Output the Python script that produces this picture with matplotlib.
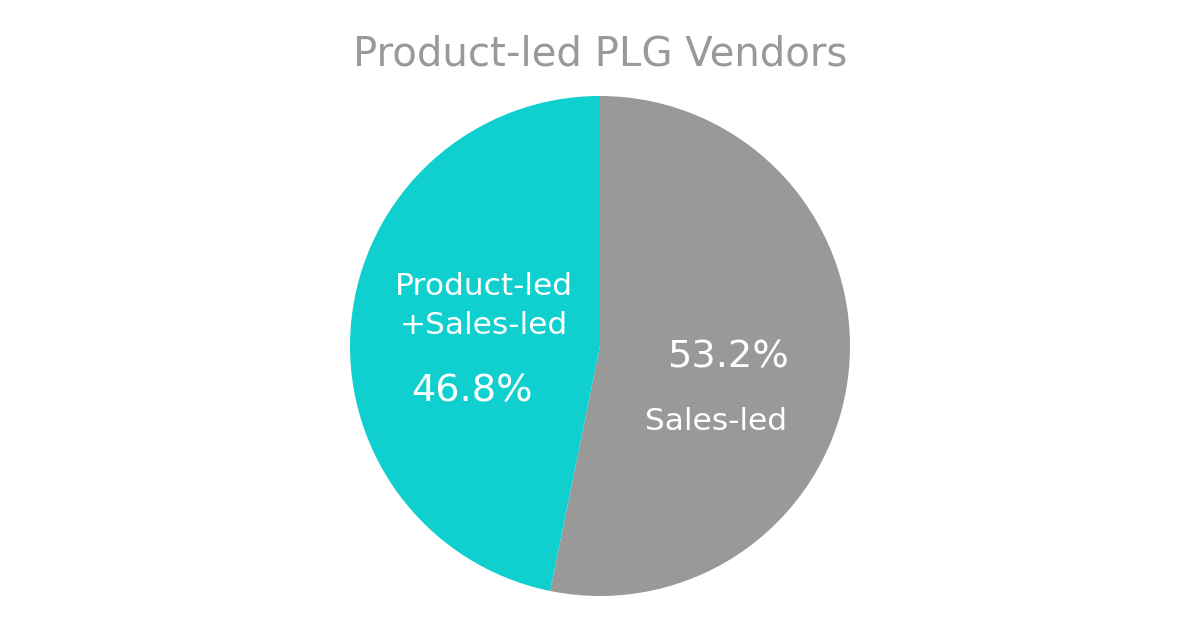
import matplotlib
matplotlib.use("Agg")
import matplotlib.pyplot as plt

title = "Product-led PLG Vendors"
categories = ["Sales-led", "Product-led\n+Sales-led"]
values = [53.2, 46.8]
colors = ["#999999", "#0fcfcf"]

plt.rcParams['font.family'] = ['DejaVu Sans']

fig = plt.figure(figsize=(12, 6.28), dpi=100)
ax = fig.add_axes([350/1200, 32/628, 500/1200, 500/628])
ax.pie(values, colors=colors, startangle=90, counterclock=False, radius=1,
       wedgeprops=dict(linewidth=0))
ax.set_xlim(-1, 1)
ax.set_ylim(-1, 1)
ax.set_aspect("equal")
ax.axis("off")

# Sales-led labels
ax.text(0.512, -0.044, f"{values[0]:.1f}%", color="white", fontsize=27.5,
        ha="center", va="center")
ax.text(0.464, -0.30, categories[0], color="white", fontsize=22.5,
        ha="center", va="center")
# Product-led labels
ax.text(-0.464, 0.16, categories[1], color="white", fontsize=22.5,
        ha="center", va="center", linespacing=1.4)
ax.text(-0.512, -0.184, f"{values[1]:.1f}%", color="white", fontsize=27.5,
        ha="center", va="center")

fig.text(0.5, 1 - 55/628, title, color="#999999", fontsize=29,
         ha="center", va="center")

fig.savefig("out.png", dpi=100, facecolor="white")
